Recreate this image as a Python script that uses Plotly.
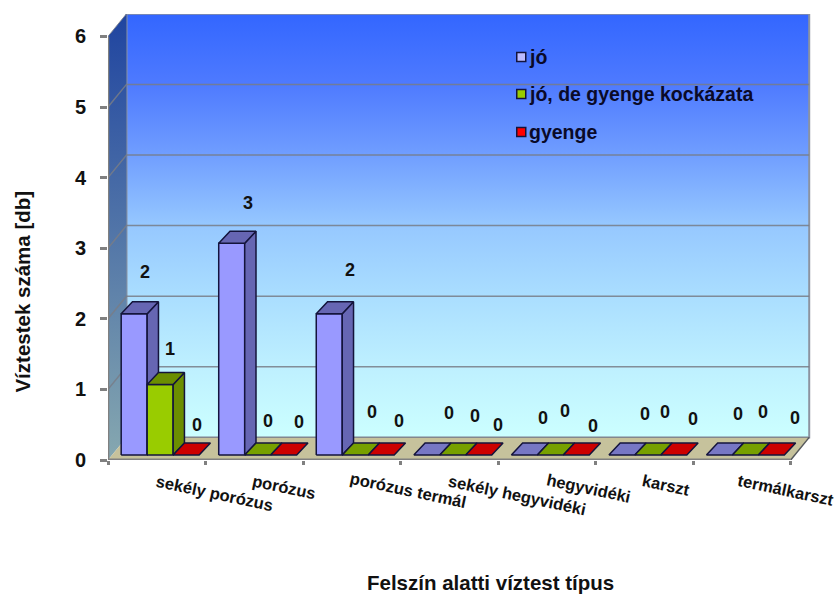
import plotly.graph_objects as go

# Chart content
categories = ["sekély porózus", "porózus", "porózus termál", "sekély hegyvidéki",
              "hegyvidéki", "karszt", "termálkarszt"]
series_names = ["jó", "jó, de gyenge kockázata", "gyenge"]
jo = [2, 3, 2, 0, 0, 0, 0]
jo_de_gyenge = [1, 0, 0, 0, 0, 0, 0]
gyenge = [0, 0, 0, 0, 0, 0, 0]
y_ticks = [0, 1, 2, 3, 4, 5, 6]

# Face colours per series: front, side/top, zero-height top
front_colors = ["#9999FF", "#99CC00", "#FF0000"]
side_colors = ["#6666B3", "#6B8E00", "#B30000"]
flat_colors = ["#7777C4", "#77A000", "#CC0000"]
legend_colors = ["#BBBBFF", "#99CC00", "#FF0000"]
OUTLINE = "#14143C"
GRID = "rgba(120,125,135,0.85)"
AXIS = "#808080"
FONT = "Liberation Sans"
WALL_SCALE = [[0, "#CCFFFF"], [0.165, "#BEF0FF"], [0.333, "#AADEFF"], [0.5, "#96C8FF"],
              [0.667, "#709EFF"], [0.835, "#4E7AFF"], [1, "#3366FF"]]

# Pixel scale of the axes and the oblique projection, in axis units
PX_X = 97.6
PX_Y = 70.6
LEFT, TOP, BOTTOM, WIDTH, HEIGHT = 107.5, 14, 460, 837, 594
WALL_DX, WALL_DY = 18.5 / PX_X, 22.6 / PX_Y
BAR_DX, BAR_DY = 11.3 / PX_X, 12 / PX_Y
BASE_X, BASE_Y = 4 / PX_X, 5 / PX_Y
BAR_W = 26 / PX_X
GROUP_PAD = 9.2 / PX_X
N = len(categories)
Y_TOP = (BOTTOM - TOP) / PX_Y
X_END = (WIDTH - LEFT) / PX_X

# Value label nudges in pixels relative to the centre of each bar's top edge
label_dx = [[11, 16, 21, 22.5, 19, 23, 19],
            [10, 10, 17, 22.5, 15, 17, 18],
            [11, 15, 18, 19.5, 17, 19, 24]]
label_dy = [[42, 40, 44, 42, 37, 41, 41],
            [35, 34, 43, 39, 44, 43, 43],
            [30, 33, 34, 30, 29, 36, 37]]

# Category label centres in pixels
cat_label_x = [214, 284, 408, 517, 588, 666, 786]
cat_label_y = [493, 487, 490, 495, 488, 485, 490]


def paper_x(px):
    return (px - LEFT) / (WIDTH - LEFT)


def paper_y(py):
    return (BOTTOM - py) / (BOTTOM - TOP)


fig = go.Figure()


def poly(xs, ys, fill=None, line=None, width=0, gradient=None):
    kw = dict(x=xs, y=ys, mode="lines", showlegend=False, hoverinfo="skip")
    kw["line"] = dict(color=line or "rgba(0,0,0,0)", width=width)
    if fill or gradient:
        kw["fill"] = "toself"
        if fill:
            kw["fillcolor"] = fill
        if gradient:
            kw["fillgradient"] = gradient
    fig.add_trace(go.Scatter(**kw))


# Back wall, left wall and floor
poly([WALL_DX, 7 + WALL_DX, 7 + WALL_DX, WALL_DX, WALL_DX],
     [WALL_DY, WALL_DY, 6 + WALL_DY, 6 + WALL_DY, WALL_DY],
     line="#8C93A0", width=2,
     gradient=dict(type="vertical", colorscale=WALL_SCALE,
                   start=WALL_DY, stop=6 + WALL_DY))
poly([0, WALL_DX, WALL_DX, 0, 0], [0, WALL_DY, 6 + WALL_DY, 6, 0],
     gradient=dict(type="vertical", colorscale=[[0, "#86A8B0"], [1, "#1F44A0"]],
                   start=0, stop=6 + WALL_DY))
poly([0, 7, 7 + WALL_DX, WALL_DX, 0], [0, 0, WALL_DY, WALL_DY, 0], fill="#C6C29C")

# Gridlines run along the back wall and down the left wall
for t in y_ticks[1:-1]:
    poly([0, WALL_DX, 7 + WALL_DX], [t, t + WALL_DY, t + WALL_DY], line=GRID, width=1.5)
poly([WALL_DX, 7 + WALL_DX], [WALL_DY, WALL_DY], line=GRID, width=1)
poly([WALL_DX, 0], [6 + WALL_DY, 6], line=GRID, width=1)
poly([7, 7 + WALL_DX], [0, WALL_DY], line="#55585C", width=1.5)

# Axis lines
poly([0, 0], [0, 6], line=AXIS, width=2.5)
poly([0, 7], [0, 0], line=AXIS, width=3)

# Bars, painted left to right so nearer faces cover earlier side faces
values = [jo, jo_de_gyenge, gyenge]
for i in range(N):
    for j, series in enumerate(values):
        v = series[i]
        x0 = i + BASE_X + GROUP_PAD + j * BAR_W
        x1 = x0 + BAR_W
        y0 = BASE_Y
        y1 = BASE_Y + v
        if v > 0:
            poly([x0, x1, x1, x0, x0], [y0, y0, y1, y1, y0],
                 fill=front_colors[j], line=OUTLINE, width=1.5)
            poly([x1, x1 + BAR_DX, x1 + BAR_DX, x1, x1],
                 [y0, y0 + BAR_DY, y1 + BAR_DY, y1, y0],
                 fill=side_colors[j], line=OUTLINE, width=1.5)
        poly([x0, x1, x1 + BAR_DX, x0 + BAR_DX, x0],
             [y1, y1, y1 + BAR_DY, y1 + BAR_DY, y1],
             fill=side_colors[j] if v > 0 else flat_colors[j], line=OUTLINE, width=1.5)

# Key inside the plot
key_y = [5.708, 5.184, 4.646]
key_x = 4.237
fig.add_trace(go.Scatter(
    x=[key_x] * 3, y=key_y, mode="markers", showlegend=False, hoverinfo="skip",
    marker=dict(symbol="square", size=9, color=legend_colors,
                line=dict(color=OUTLINE, width=1.5))))

annotations = []
for name, ky in zip(series_names, key_y):
    annotations.append(dict(x=key_x, y=ky, xref="x", yref="y", text=f"<b>{name}</b>",
                            showarrow=False, xanchor="left", xshift=6,
                            font=dict(family=FONT, size=19.5, color="#0A0A28")))

# Value labels
for j, series in enumerate(values):
    for i, v in enumerate(series):
        cx = i + BASE_X + GROUP_PAD + (j + 0.5) * BAR_W
        annotations.append(dict(x=cx, y=BASE_Y + v, xref="x", yref="y", text=f"<b>{v}</b>",
                                showarrow=False, xshift=label_dx[j][i], yshift=label_dy[j][i],
                                font=dict(family=FONT, size=18, color="#111111")))

# Slanted category labels
for name, px, py in zip(categories, cat_label_x, cat_label_y):
    annotations.append(dict(x=paper_x(px), y=paper_y(py), xref="paper", yref="paper",
                            xanchor="center", yanchor="middle",
                            text=f"<b>{name}</b>", showarrow=False, textangle=12,
                            font=dict(family=FONT, size=16.5, color="#111111")))

# Axis titles
annotations.append(dict(x=paper_x(490), y=paper_y(582), xref="paper", yref="paper",
                        xanchor="center", yanchor="middle",
                        text="<b>Felszín alatti víztest típus</b>", showarrow=False,
                        font=dict(family=FONT, size=20.5, color="#111111")))
annotations.append(dict(x=paper_x(21), y=paper_y(292), xref="paper", yref="paper",
                        xanchor="center", yanchor="middle",
                        text="<b>Víztestek száma [db]</b>", showarrow=False, textangle=-90,
                        font=dict(family=FONT, size=20.5, color="#111111")))

fig.update_layout(
    width=WIDTH, height=HEIGHT,
    margin=dict(l=LEFT, r=0, t=TOP, b=HEIGHT - BOTTOM, autoexpand=False),
    paper_bgcolor="white", plot_bgcolor="white",
    showlegend=False,
    annotations=annotations,
    xaxis=dict(range=[0, X_END], tickvals=list(range(N + 1)), showticklabels=False,
               ticks="outside", ticklen=4, tickwidth=2.5, tickcolor=AXIS,
               showgrid=False, zeroline=False, showline=False, fixedrange=True),
    yaxis=dict(range=[0, Y_TOP], tickvals=y_ticks, ticks="outside", ticklen=7,
               tickwidth=2.5, tickcolor=AXIS, ticklabelstandoff=10,
               tickfont=dict(family=FONT, size=20, color="#111111", weight="bold"),
               showgrid=False, zeroline=False, showline=False, fixedrange=True),
)

fig.write_html("out.html", config={"displayModeBar": False})
